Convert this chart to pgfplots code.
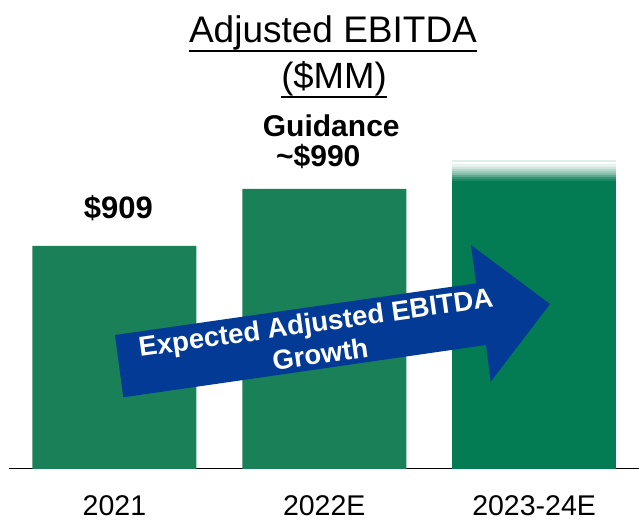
\documentclass[border=0pt]{standalone}
\usepackage{fontspec}
\setmainfont{Liberation Sans}
\usepackage{pgfplots}
\pgfplotsset{compat=1.18}
\definecolor{barA}{RGB}{26,128,88}
\definecolor{barB}{RGB}{3,124,84}
\definecolor{arrowblue}{RGB}{2,58,150}
\begin{document}
\begin{tikzpicture}
\path[use as bounding box] (0pt,0pt) rectangle (639pt,524pt);
\begin{axis}[
    at={(9.5pt,55pt)}, anchor=south west,
    scale only axis,
    width=629.5pt, height=368pt,
    xmin=-0.5, xmax=2.5,
    ymin=592, ymax=1115,
    axis x line=bottom,
    axis y line=none,
    x axis line style={-, line width=1pt, black},
    xtick={0,1,2},
    xticklabels={2021,2022E,2023-24E},
    xtick style={draw=none},
    major tick length=0pt,
    xticklabel style={font=\fontsize{28.5}{32}\selectfont, anchor=base, yshift=-46pt},
    every axis plot/.append style={ybar, bar width=164pt, bar shift=0pt, draw=none},
]
% 2021 and 2022E
\addplot[fill=barA] coordinates {(0,909) (1,990)};
% 2023-24E, faded top drawn as stacked bands
\addplot[fill=barB!13!white] coordinates {(2,1031.1)};
\addplot[fill=white] coordinates {(2,1028.3)};
\addplot[fill=barB!10!white] coordinates {(2,1025.4)};
\addplot[fill=barB!20!white] coordinates {(2,1021.6)};
\addplot[fill=barB!30!white] coordinates {(2,1018.7)};
\addplot[fill=barB!40!white] coordinates {(2,1015.9)};
\addplot[fill=barB!50!white] coordinates {(2,1013.1)};
\addplot[fill=barB!65!white] coordinates {(2,1010.2)};
\addplot[fill=barB!80!white] coordinates {(2,1007.4)};
\addplot[fill=barB!90!white] coordinates {(2,1004.5)};
\addplot[fill=barB] coordinates {(2,1001.7)};

\node[anchor=base, font=\bfseries\fontsize{31}{34}\selectfont, xshift=4pt, yshift=27pt]
    at (axis cs:0,909) {\$909};
\node[anchor=base, font=\bfseries\fontsize{30}{34}\selectfont, xshift=-6pt, yshift=22pt]
    at (axis cs:1,990) {\textasciitilde\$990};
\node[anchor=base, font=\bfseries\fontsize{30}{34}\selectfont, xshift=7pt, yshift=52pt]
    at (axis cs:1,990) {Guidance};
\end{axis}

% growth arrow
\fill[arrowblue] (115pt,189pt) -- (476pt,240.7pt) -- (471pt,279pt) -- (550pt,220pt)
    -- (490.7pt,142.3pt) -- (486pt,179pt) -- (123.3pt,126.7pt) -- cycle;
\node[rotate=8, text=white, align=center, inner sep=0pt, font=\bfseries\fontsize{27.5}{32}\selectfont]
    at (318pt,186pt) {Expected Adjusted EBITDA\\Growth};

% title
\node[anchor=base, inner sep=0pt, font=\fontsize{37}{40}\selectfont] (t1) at (333pt,481pt) {Adjusted EBITDA};
\node[anchor=base, inner sep=0pt, font=\fontsize{36.5}{40}\selectfont] (t2) at (334pt,435pt) {(\$MM)};
\draw[line width=2pt] (t1.west |- 0,472.5pt) -- (t1.east |- 0,472.5pt);
\draw[line width=2pt] (t2.west |- 0,426.7pt) -- (t2.east |- 0,426.7pt);
\end{tikzpicture}
\end{document}
